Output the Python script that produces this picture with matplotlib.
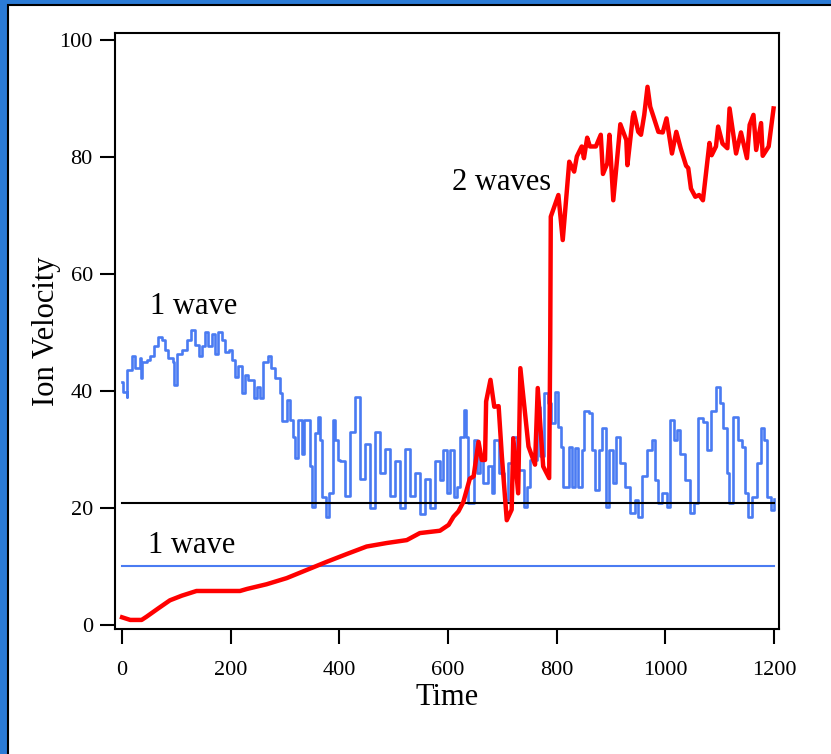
import matplotlib
matplotlib.use('Agg')
import matplotlib.pyplot as plt
from matplotlib.patches import Rectangle

# red curve (two waves)
red_t = [0, 15, 36, 45, 67, 88, 110, 137, 217, 230, 266, 303, 340, 377, 413, 450, 487, 524,
         548, 585, 601, 610, 619, 628, 640, 647, 656, 662, 668, 670, 678, 685, 693, 699, 708,
         717, 720, 729, 733, 748, 760, 765, 775, 786, 788, 789, 803, 811, 823, 832, 837, 846,
         850, 856, 861, 872, 881, 885, 893, 897, 904, 917, 928, 930, 940, 942, 950, 955, 961,
         967, 972, 978, 987, 995, 1002, 1012, 1020, 1028, 1038, 1042, 1047, 1055, 1062, 1069,
         1081, 1085, 1093, 1097, 1105, 1114, 1118, 1130, 1139, 1150, 1155, 1162, 1167, 1176,
         1179, 1190, 1199]
red_v = [1.3, 0.85, 0.85, 1.4, 2.85, 4.2, 5.0, 5.8, 5.8, 6.15, 6.95, 8.0, 9.4, 10.8, 12.1, 13.4,
         14.0, 14.5, 15.7, 16.1, 17.1, 18.5, 19.4, 21.0, 25.0, 25.4, 31.3, 28.2, 28.2, 38.2,
         41.9, 37.3, 37.4, 28.8, 17.9, 19.7, 31.9, 22.5, 43.9, 30.5, 27.4, 40.5, 27.1, 25.1,
         48.7, 69.8, 73.5, 65.8, 79.2, 77.5, 80.1, 81.8, 79.8, 83.3, 81.8, 81.8, 83.8, 77.1,
         78.9, 83.8, 72.6, 85.6, 82.9, 78.6, 86.9, 87.6, 84.3, 83.8, 87.2, 92.0, 88.6, 86.9,
         84.3, 84.2, 86.6, 80.6, 84.3, 81.5, 78.5, 78.1, 74.6, 73.2, 73.5, 72.6, 82.4, 80.3,
         81.8, 85.2, 82.3, 81.5, 88.3, 80.6, 84.2, 79.8, 85.5, 87.2, 81.2, 85.8, 80.2, 81.8,
         88.3]

# blue curve (one wave)
blue_t = [0, 2.5, 8.6, 10, 18, 24, 33, 34, 36, 45, 51, 58, 67, 73, 79, 85, 93, 95, 101, 110,
          119, 126, 134, 141, 147, 153, 159, 165, 171, 177, 183, 190, 196, 202, 208, 214, 220,
          226, 232, 242, 248, 254, 260, 269, 275, 282, 291, 294, 303, 309, 315, 318, 324, 331,
          335, 346, 349, 355, 360, 364, 368, 375, 380, 388, 392, 398, 401, 410, 420, 429, 438,
          447, 456, 466, 475, 484, 493, 502, 512, 521, 530, 539, 548, 558, 567, 576, 585, 591,
          598, 604, 610, 616, 622, 629, 633, 637, 647, 653, 659, 665, 674, 680, 685, 693, 702,
          711, 717, 726, 739, 746, 751, 763, 769, 777, 783, 789, 797, 803, 808, 812, 822, 828,
          834, 840, 846, 851, 859, 865, 871, 877, 883, 890, 897, 903, 909, 917, 926, 935, 944,
          950, 956, 966, 975, 981, 987, 993, 1002, 1008, 1015, 1021, 1027, 1036, 1045, 1052,
          1060, 1070, 1076, 1083, 1093, 1100, 1106, 1113, 1117, 1125, 1133, 1140, 1146, 1152,
          1160, 1168, 1175, 1181, 1187, 1195, 1200]
blue_v = [41.6, 39.9, 39.0, 43.6, 45.9, 43.9, 45.6, 42.2, 45.0, 45.3, 45.9, 47.6, 49.3, 48.7,
          47.0, 45.6, 45.0, 41.1, 46.4, 47.0, 48.7, 50.4, 47.9, 45.9, 47.6, 50.1, 47.6, 49.8,
          46.4, 50.1, 48.7, 46.7, 47.0, 45.3, 42.4, 44.2, 39.6, 42.7, 41.9, 38.8, 40.7, 38.8,
          45.0, 45.9, 43.9, 42.2, 39.6, 34.8, 38.5, 35.0, 32.2, 28.5, 35.0, 29.3, 35.0, 27.1,
          20.2, 32.8, 35.6, 31.6, 21.9, 18.5, 22.5, 35.0, 31.6, 28.2, 28.0, 22.0, 33.0, 39.0,
          25.0, 31.0, 20.0, 33.0, 26.0, 30.0, 22.0, 28.0, 20.0, 30.0, 22.0, 26.0, 19.0, 25.0,
          20.0, 28.0, 24.8, 29.9, 22.5, 29.9, 21.9, 23.6, 32.2, 36.75, 32.2, 20.8, 31.6, 25.9,
          28.8, 24.2, 27.1, 22.5, 31.6, 25.9, 21.3, 27.6, 32.2, 26.5, 20.2, 23.6, 28.2, 37.3,
          28.8, 39.6, 37.9, 34.5, 39.9, 33.9, 30.5, 23.6, 30.5, 23.6, 30.2, 23.6, 29.9, 36.5,
          36.2, 29.9, 23.0, 29.9, 33.6, 20.2, 29.9, 24.2, 32.2, 27.6, 23.6, 19.1, 21.3, 18.5,
          25.4, 29.9, 31.6, 24.8, 20.8, 22.5, 20.2, 35.0, 31.6, 33.3, 29.3, 24.8, 19.1, 20.8,
          35.3, 34.7, 29.9, 36.5, 40.7, 37.9, 33.6, 25.9, 20.8, 35.6, 31.6, 30.5, 22.5, 18.5,
          21.9, 27.6, 33.6, 31.6, 21.9, 19.6, 21.5]

black_level = 20.9
blue_level = 10.0
line_blue = '#4a7bf2'

plt.rcParams['font.family'] = ['Liberation Serif', 'DejaVu Serif']

fig = plt.figure(figsize=(8.31, 7.54), dpi=100)
fig.patch.set_facecolor('#2b7bd6')
# white panel with black edge at top/left
W, H = 831, 754
fig.patches.append(Rectangle((8 / W, -0.01), 1.02, (H - 5) / H + 0.01, transform=fig.transFigure,
                             facecolor='white', edgecolor='black', linewidth=1.5, zorder=-5))

ax = fig.add_axes([115 / W, 1 - 629 / H, (779 - 115) / W, (629 - 33) / H])
ax.set_zorder(2)
ax.plot(blue_t, blue_v, color=line_blue, lw=1.9, drawstyle='steps-post')
ax.plot([0, 1200], [black_level, black_level], color='black', lw=1.5)
ax.plot([0, 1200], [blue_level, blue_level], color=line_blue, lw=1.5)
ax.plot(red_t, red_v, color='#ff0000', lw=3.2, solid_joinstyle='round')

ax.set_xlim(-13, 1209)
ax.set_ylim(-0.7, 101.2)
ax.set_xticks(range(0, 1201, 200))
ax.set_yticks(range(0, 101, 20))
ax.tick_params(direction='out', length=11, width=1.5, labelsize=16, pad=5)
ax.tick_params(axis='x', pad=12)
for s in ax.spines.values():
    s.set_linewidth(1.5)

ax.set_xlabel('Time', fontsize=22, labelpad=2)
ax.set_ylabel('Ion Velocity', fontsize=22, labelpad=-1)

ax.text(52, 54.4, '1 wave', fontsize=22, va='center', ha='left')
ax.text(48, 13.6, '1 wave', fontsize=22, va='center', ha='left')
ax.text(607, 75.6, '2 waves', fontsize=22, va='center', ha='left')

fig.savefig('out.png', dpi=100, facecolor=fig.get_facecolor())
